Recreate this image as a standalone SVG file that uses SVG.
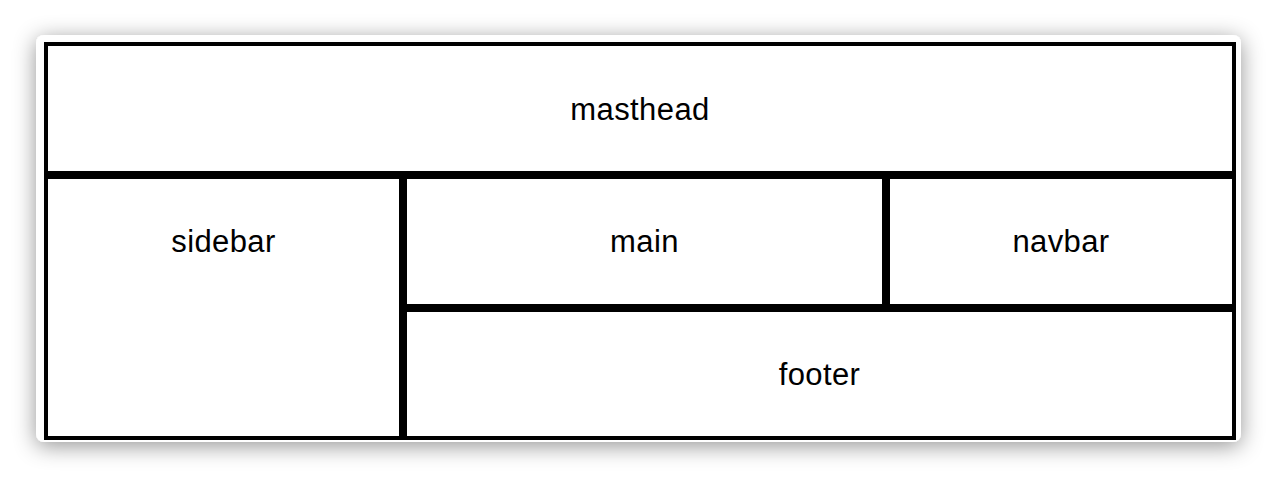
<svg xmlns="http://www.w3.org/2000/svg" width="1278" height="480" viewBox="0 0 1278 480">
<defs>
<filter id="sh" x="-10%" y="-25%" width="120%" height="150%">
<feDropShadow dx="0" dy="4" stdDeviation="11" flood-color="#000" flood-opacity="0.42"/>
</filter>
<style>
.cell{fill:#fff;stroke:#000;stroke-width:4}
.lbl{font-family:"Liberation Sans",Arial,sans-serif;font-size:31px;letter-spacing:0.4px;fill:#000;text-anchor:middle}
</style>
</defs>
<rect width="1278" height="480" fill="#fff"/>
<rect x="36" y="35" width="1205" height="407" rx="8" fill="#fff" filter="url(#sh)"/>
<g id="masthead"><rect class="cell" x="46" y="44" width="1188" height="129"/><text class="lbl" x="640" y="120">masthead</text></g>
<g id="sidebar"><rect class="cell" x="46" y="177" width="355" height="261"/><text class="lbl" x="223.5" y="252">sidebar</text></g>
<g id="main"><rect class="cell" x="405" y="177" width="479" height="129"/><text class="lbl" x="644.5" y="252">main</text></g>
<g id="navbar"><rect class="cell" x="888" y="177" width="346" height="129"/><text class="lbl" x="1061" y="252">navbar</text></g>
<g id="footer"><rect class="cell" x="405" y="310" width="829" height="128"/><text class="lbl" x="819.5" y="385">footer</text></g>
<g id="connectors"/>
</svg>
